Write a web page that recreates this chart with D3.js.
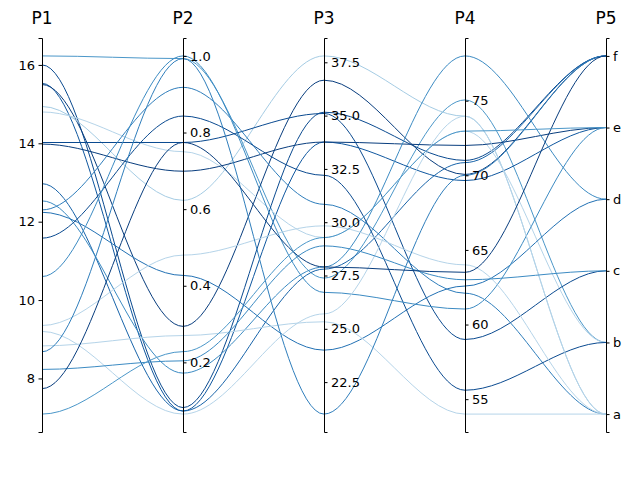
<!DOCTYPE html>
<html>
<head>
<meta charset="utf-8">
<script src="https://cdn.jsdelivr.net/npm/d3@7"></script>
<style>
  body { margin: 0; background: #fff; }
  text { font-family: "DejaVu Sans", sans-serif; }
</style>
</head>
<body>
<div id="root"></div>
<script>
// axis names and categories of the last axis
const dims = ['P1', 'P2', 'P3', 'P4', 'P5'];
const cats = ['a', 'b', 'c', 'd', 'e', 'f'];

// one value per line and axis
const p1 = [16.23, 16.0, 15.53, 15.5, 14.94, 14.8, 13.98, 14.02, 12.97, 12.53, 12.3, 12.24, 11.58, 10.6, 9.35, 9.2, 8.83, 8.68, 8.23, 7.74, 7.09];
const p2 = [0.993, 0.082, 0.073, 0.294, 0.623, 0.75, 0.699, 0.774, 0.073, 0.172, 0.918, 0.427, 0.843, 1.0, 0.48, 0.065, 0.27, 0.993, 0.204, 0.774, 0.228];
const p3 = [27.38, 35.16, 33.76, 36.66, 37.8, 29.28, 33.76, 35.1, 27.8, 27.9, 30.84, 24.0, 32.2, 26.71, 29.83, 25.7, 25.33, 21.0, 28.89, 27.9, 29.28];
const p4 = [75.05, 71.0, 69.65, 70.06, 73.96, 72.96, 72.0, 59.0, 70.85, 78.0, 62.1, 62.58, 55.6, 61.04, 64.0, 73.96, 54.0, 70.0, 63.0, 63.5, 72.96];
const p5 = ['b', 'f', 'e', 'f', 'a', 'b', 'e', 'c', 'f', 'd', 'a', 'd', 'b', 'e', 'a', 'a', 'a', 'f', 'c', 'f', 'e'];
const shade = [0.6, 0.9, 0.85, 0.95, 0.35, 0.3, 0.95, 0.9, 0.8, 0.65, 0.7, 0.75, 0.9, 0.65, 0.3, 0.3, 0.3, 0.7, 0.65, 0.95, 0.6];

const W = 640, H = 480;
const yTop = 38, yBottom = 432;

let svg = d3.select('#root').append('svg')
    .attr('width', W).attr('height', H);

let x = d3.scalePoint().domain(dims).range([42, 606]);

function padded(vals) {
    let [a, b] = d3.extent(vals);
    let r = b - a;
    return [a - 0.05 * r, b + 0.05 * r];
}

let ys = {
    P1: d3.scaleLinear().domain(padded(p1)).range([yBottom, yTop]),
    P2: d3.scaleLinear().domain(padded(p2)).range([yBottom, yTop]),
    P3: d3.scaleLinear().domain(padded(p3)).range([yBottom, yTop]),
    P4: d3.scaleLinear().domain(padded(p4)).range([yBottom, yTop]),
    P5: d3.scaleLinear().domain(padded([0, cats.length - 1])).range([yBottom, yTop])
};

let rows = p1.map((v, i) => [v, p2[i], p3[i], p4[i], cats.indexOf(p5[i])]);

function linePath(row) {
    let p = d3.path();
    let pts = row.map((v, j) => [x(dims[j]), ys[dims[j]](v)]);
    p.moveTo(pts[0][0], pts[0][1]);
    for (let j = 1; j < pts.length; j++) {
        let [x0, y0] = pts[j - 1], [x1, y1] = pts[j];
        let dx = (x1 - x0) / 3;
        p.bezierCurveTo(x0 + dx, y0, x1 - dx, y1, x1, y1);
    }
    return p.toString();
}

svg.append('g').selectAll('path')
    .data(rows)
    .join('path')
    .attr('d', linePath)
    .attr('fill', 'none')
    .attr('stroke', (d, i) => d3.interpolateBlues(shade[i]))
    .attr('stroke-width', 1);

let tickVals = {
    P1: [8, 10, 12, 14, 16],
    P2: [0.2, 0.4, 0.6, 0.8, 1.0],
    P3: [22.5, 25, 27.5, 30, 32.5, 35, 37.5],
    P4: [55, 60, 65, 70, 75],
    P5: d3.range(cats.length)
};

dims.forEach((dim, j) => {
    let ax = j === 0 ? d3.axisLeft(ys[dim]) : d3.axisRight(ys[dim]);
    ax.tickValues(tickVals[dim]).tickSizeOuter(0).tickSize(3.5).tickPadding(3.5);
    if (dim === 'P5') ax.tickFormat(i => cats[i]);
    else if (dim === 'P2' || dim === 'P3') ax.tickFormat(d3.format('.1f'));
    else ax.tickFormat(d3.format('d'));
    let g = svg.append('g')
        .attr('transform', `translate(${x(dim)},0)`)
        .call(ax);
    g.select('.domain').attr('stroke', '#000').attr('stroke-width', 1);
    g.selectAll('.tick text').attr('font-size', 13).attr('fill', '#000')
        .attr('font-family', 'DejaVu Sans');
    svg.append('text')
        .attr('x', x(dim)).attr('y', 24)
        .attr('text-anchor', 'middle')
        .attr('font-size', 17)
        .text(dim);
});
</script>
</body>
</html>
